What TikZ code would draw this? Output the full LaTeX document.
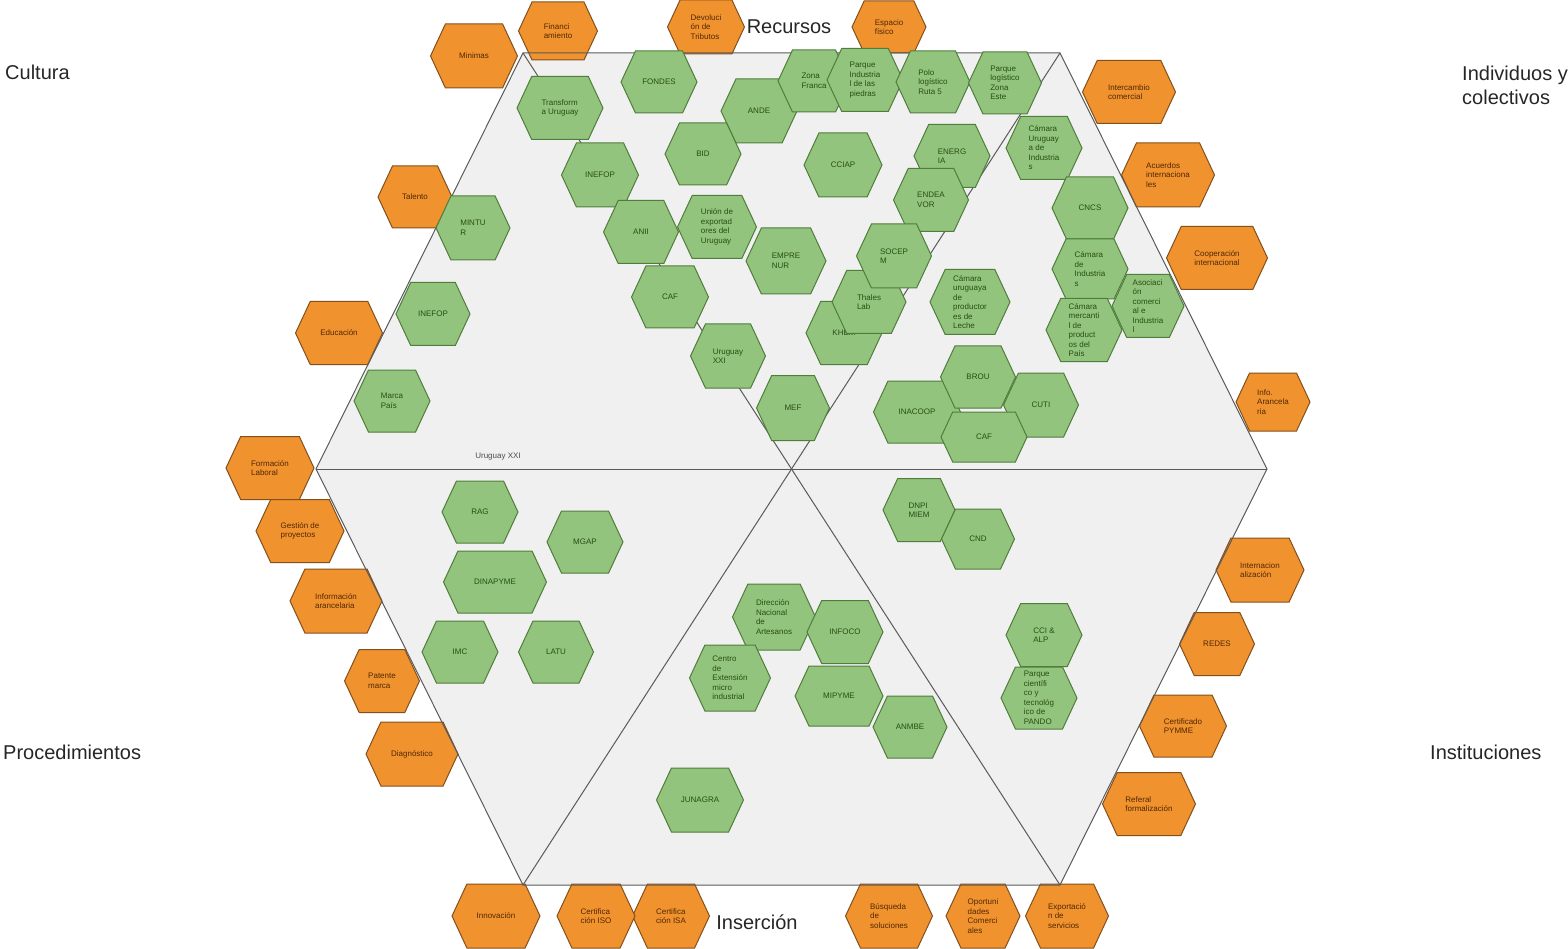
\documentclass[tikz,border=0pt]{standalone}
\usepackage{fontspec}
\setmainfont{Liberation Sans}
\usetikzlibrary{shapes.symbols}
\definecolor{gfill}{RGB}{147,196,125}
\definecolor{gline}{RGB}{80,125,60}
\definecolor{gtext}{RGB}{39,78,19}
\definecolor{ofill}{RGB}{240,146,46}
\definecolor{oline}{RGB}{130,80,30}
\definecolor{otext}{RGB}{80,40,5}
\definecolor{bgfill}{RGB}{240,240,240}
\definecolor{bgline}{RGB}{90,90,90}
\tikzset{
  hexbase/.style={shape=signal, signal to=east and west, signal pointer angle=130,
    inner sep=1pt, align=left, font=\fontsize{8}{9.5}\selectfont, line width=1pt},
  ghex/.style={hexbase, fill=gfill, draw=gline, text=gtext},
  ohex/.style={hexbase, fill=ofill, draw=oline, text=otext},
  quad/.style={font=\fontsize{20}{24}\selectfont, text=black!85, inner sep=0pt, align=left},
  bigline/.style={draw=bgline, line width=1pt},
}
\newcommand\hx[7]{\node[#1, minimum width=#5, minimum height=#6] (#2) at (#3,#4) {#7};}
\begin{document}
\begin{tikzpicture}[x=1pt,y=-1pt]
\useasboundingbox (0,0) rectangle (1568,949);
\coordinate (TL) at (523,53);
\coordinate (TR) at (1060,53);
\coordinate (R) at (1267,469);
\coordinate (BR) at (1060,885);
\coordinate (BL) at (523,885);
\coordinate (L) at (316,469);
\coordinate (C) at (791.5,469);
\fill[bgfill] (TL) -- (TR) -- (R) -- (BR) -- (BL) -- (L) -- cycle;
% orange hexagons
\hx{ohex}{o1}{474}{56}{87}{64}{Minimas}
\hx{ohex}{o2}{558}{31}{79}{58}{Financi\\amiento}
\hx{ohex}{o3}{706}{27}{77}{54}{Devoluci\\ón de\\Tributos}
\hx{ohex}{o4}{889}{27}{74}{52}{Espacio\\físico}
\hx{ohex}{o5}{1129}{92}{93}{63}{Intercambio\\comercial}
\hx{ohex}{o6}{1168}{175}{93}{64}{Acuerdos\\internaciona\\les}
\hx{ohex}{o7}{1217}{258}{101}{63}{Cooperación\\internacional}
\hx{ohex}{o8}{1273}{402}{74}{58}{Info.\\Arancela\\ria}
\hx{ohex}{o9}{1260}{570}{88}{64}{Internacion\\alización}
\hx{ohex}{o10}{1217}{644}{75}{63}{REDES}
\hx{ohex}{o11}{1183}{726}{87}{62}{Certificado\\PYMME}
\hx{ohex}{o12}{1149}{804}{93}{63}{Referal\\formalización}
\hx{ohex}{o13}{1067}{916}{83}{64}{Exportació\\n de\\servicios}
\hx{ohex}{o14}{983}{916}{74}{64}{Oportuni\\dades\\Comerci\\ales}
\hx{ohex}{o15}{889}{916}{87}{64}{Búsqueda\\de\\soluciones}
\hx{ohex}{o16}{671}{916}{77}{64}{Certifica\\ción ISA}
\hx{ohex}{o17}{596}{916}{78}{64}{Certifica\\ción ISO}
\hx{ohex}{o18}{496}{916}{88}{64}{Innovación}
\hx{ohex}{o19}{412}{754}{92}{64}{Diagnóstico}
\hx{ohex}{o20}{382}{681}{75}{63}{Patente\\marca}
\hx{ohex}{o21}{336}{601}{92}{64}{Información\\arancelaria}
\hx{ohex}{o22}{270}{468}{88}{63}{Formación\\Laboral}
\hx{ohex}{o23}{300}{531}{88}{63}{Gestión de\\proyectos}
\hx{ohex}{o24}{339}{333}{87}{63}{Educación}
\hx{ohex}{o25}{415}{197}{74}{62}{Talento}
% big hexagon outline and spokes
\draw[bigline] (TL) -- (TR) -- (R) -- (BR) -- (BL) -- (L) -- cycle;
\draw[bigline] (L) -- (R);
\draw[bigline] (TL) -- (BR);
\draw[bigline] (TR) -- (BL);
\node[font=\fontsize{8}{9}\selectfont, text=black!70, inner sep=0pt] (uxxi) at (498,457) {Uruguay XXI};
% green hexagons
\hx{ghex}{g1}{560}{108}{86}{63}{Transform\\a Uruguay}
\hx{ghex}{g2}{659}{82}{76}{62}{FONDES}
\hx{ghex}{g3}{759}{111}{76}{64}{ANDE}
\hx{ghex}{g4}{814}{81}{72}{62}{Zona\\Franca}
\hx{ghex}{g5}{865}{80}{76}{63}{Parque\\Industria\\l de las\\piedras}
\hx{ghex}{g6}{933}{82}{74}{62}{Polo\\logístico\\Ruta 5}
\hx{ghex}{g7}{1005}{83}{73}{62}{Parque\\logístico\\Zona\\Este}
\hx{ghex}{g8}{703}{154}{76}{62}{BID}
\hx{ghex}{g9}{600}{175}{77}{64}{INEFOP}
\hx{ghex}{g10}{843}{165}{78}{64}{CCIAP}
\hx{ghex}{g11}{952}{156}{76}{63}{ENERG\\IA}
\hx{ghex}{g12}{931}{200}{75}{63}{ENDEA\\VOR}
\hx{ghex}{g13}{1044}{148}{76}{63}{Cámara\\Uruguay\\a de\\Industria\\s}
\hx{ghex}{g14}{473}{228}{74}{64}{MINTU\\R}
\hx{ghex}{g15}{641}{232}{75}{63}{ANII}
\hx{ghex}{g16}{717}{227}{79}{63}{Unión de\\exportad\\ores del\\Uruguay}
\hx{ghex}{g17}{786}{261}{80}{66}{EMPRE\\NUR}
\hx{ghex}{g18}{1090}{208}{76}{62}{CNCS}
\hx{ghex}{g19}{1090}{269}{76}{60}{Cámara\\de\\Industria\\s}
\hx{ghex}{g20}{1148}{306}{72}{63}{Asociaci\\ón\\comerci\\al e\\Industria\\l}
\hx{ghex}{g21}{1084}{330}{76}{63}{Cámara\\mercanti\\l de\\product\\os del\\País}
\hx{ghex}{g22}{670}{297}{77}{62}{CAF}
\hx{ghex}{g23}{844}{333}{76}{63}{KHEM}
\hx{ghex}{g24}{869}{302}{74}{63}{Thales\\Lab}
\hx{ghex}{g25}{894}{256}{75}{64}{SOCEP\\M}
\hx{ghex}{g26}{970}{302}{80}{65}{Cámara\\uruguaya\\de\\productor\\es de\\Leche}
\hx{ghex}{g27}{728}{356}{75}{64}{Uruguay\\XXI}
\hx{ghex}{g28}{433}{314}{74}{63}{INEFOP}
\hx{ghex}{g29}{392}{401}{76}{62}{Marca\\País}
\hx{ghex}{g30}{793}{408}{73}{65}{MEF}
\hx{ghex}{g31}{917}{412}{87}{62}{INACOOP}
\hx{ghex}{g32}{978}{377}{75}{62}{BROU}
\hx{ghex}{g33}{1041}{405}{75}{64}{CUTI}
\hx{ghex}{g34}{984}{437}{86}{50}{CAF}
\hx{ghex}{g35}{480}{512}{76}{62}{RAG}
\hx{ghex}{g36}{585}{542}{76}{62}{MGAP}
\hx{ghex}{g37}{495}{582}{103}{62}{DINAPYME}
\hx{ghex}{g38}{460}{652}{76}{62}{IMC}
\hx{ghex}{g39}{556}{652}{75}{62}{LATU}
\hx{ghex}{g40}{919}{510}{72}{63}{DNPI\\MIEM}
\hx{ghex}{g41}{978}{539}{73}{60}{CND}
\hx{ghex}{g42}{774}{617}{83}{66}{Dirección\\Nacional\\de\\Artesanos}
\hx{ghex}{g43}{845}{632}{76}{63}{INFOCO}
\hx{ghex}{g44}{730}{678}{81}{66}{Centro\\de\\Extensión\\micro\\industrial}
\hx{ghex}{g45}{839}{696}{88}{60}{MIPYME}
\hx{ghex}{g46}{910}{727}{74}{62}{ANMBE}
\hx{ghex}{g47}{700}{800}{87}{64}{JUNAGRA}
\hx{ghex}{g48}{1044}{635}{76}{63}{CCI \&\\ALP}
\hx{ghex}{g49}{1039}{698}{76}{62}{Parque\\científi\\co y\\tecnológ\\ico de\\PANDO}
% quadrant labels
\node[quad, anchor=west] (cult) at (5,72) {Cultura};
\node[quad, anchor=west] (indiv) at (1462,85) {Individuos y\\colectivos};
\node[quad, anchor=west] (proc) at (3,752) {Procedimientos};
\node[quad, anchor=west] (inst) at (1430,752) {Instituciones};
\node[quad] (recu) at (789,27) {Recursos};
\node[quad] (inse) at (757,922) {Inserción};
\end{tikzpicture}
\end{document}
